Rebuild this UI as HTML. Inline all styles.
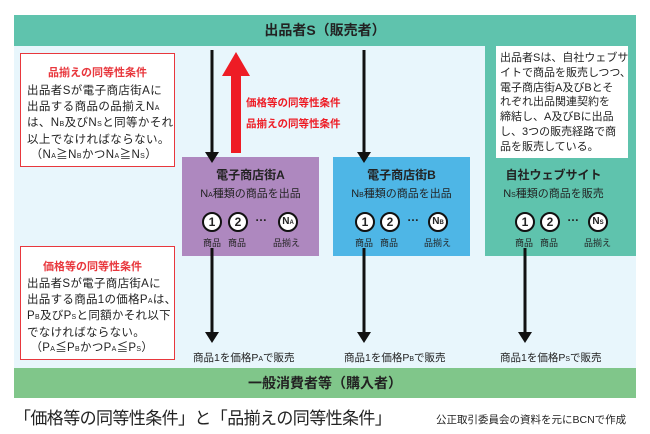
<!DOCTYPE html>
<html><head><meta charset="utf-8"><style>
*{margin:0;padding:0;box-sizing:border-box}
body{width:650px;height:434px;background:#fff;position:relative;overflow:hidden;font-family:"Liberation Sans","Noto Sans CJK JP",sans-serif;color:#222}
.a{position:absolute}
.c{text-align:center}
.circ{position:absolute;width:20px;height:20px;border:2px solid #111;border-radius:50%;background:#fff;font-weight:bold;font-size:12px;text-align:center;line-height:16px}
.sm{position:absolute;font-size:9px;color:#222}
.t{white-space:nowrap}
.s{font-size:7px}
</style></head><body>
<div class="a" style="left:14px;top:46px;width:622px;height:322px;background:#e8f6fc"></div>
<div class="a" style="left:485px;top:46px;width:151px;height:210px;background:#5fc3ad"></div>
<div class="a c" style="left:14px;top:15px;width:622px;height:31px;background:#5fc3ad;font-weight:bold;font-size:14px;line-height:31px">出品者S（販売者）</div>
<div class="a c" style="left:14px;top:368px;width:622px;height:30px;background:#80c68a;font-weight:bold;font-size:14px;line-height:30px">一般消費者等（購入者）</div>

<div class="a" style="left:20px;top:53px;width:155px;height:114px;background:#fff;border:1.5px solid #e8373d"></div>
<div class="a c" style="left:20px;top:64px;width:155px;font-size:11px;color:#e8373d;font-weight:bold">品揃えの同等性条件</div>
<div class="a t" style="left:27px;top:84px;font-size:11.5px;line-height:15.5px;letter-spacing:0.4px">出品者Sが電子商店街Aに<br>出品する商品の品揃えN<span class="s">A</span><br>は、N<span class="s">B</span>及びN<span class="s">S</span>と同等かそれ<br>以上でなければならない。<br>&nbsp;（N<span class="s">A</span>≧N<span class="s">B</span>かつN<span class="s">A</span>≧N<span class="s">S</span>）</div>

<div class="a" style="left:20px;top:246px;width:155px;height:114px;background:#fff;border:1.5px solid #e8373d"></div>
<div class="a c" style="left:20px;top:258px;width:145px;font-size:11px;color:#e8373d;font-weight:bold">価格等の同等性条件</div>
<div class="a t" style="left:27px;top:277px;font-size:11.5px;line-height:15.5px;letter-spacing:0.3px">出品者Sが電子商店街Aに<br>出品する商品1の価格P<span class="s">A</span>は、<br>P<span class="s">B</span>及びP<span class="s">S</span>と同額かそれ以下<br>でなければならない。<br>&nbsp;（P<span class="s">A</span>≦P<span class="s">B</span>かつP<span class="s">A</span>≦P<span class="s">S</span>）</div>

<div class="a" style="left:496px;top:46px;width:132px;height:112px;background:#fff"></div>
<div class="a t" style="left:500px;top:51px;font-size:11px;line-height:14.8px">出品者Sは、自社ウェブサ<br>イトで商品を販売しつつ、<br>電子商店街A及びBとそ<br>れぞれ出品関連契約を<br>締結し、A及びBに出品<br>し、3つの販売経路で商<br>品を販売している。</div>

<div class="a" style="left:182px;top:157px;width:137px;height:99px;background:#ae88bf"></div>
<div class="a" style="left:333px;top:157px;width:137px;height:99px;background:#4eb6e6"></div>

<div class="a c" style="left:182px;top:166px;width:137px;font-weight:bold;font-size:12px">電子商店街A</div>
<div class="a c" style="left:182px;top:185px;width:137px;font-size:11px">N<span class="s">A</span>種類の商品を出品</div>
<div class="a c" style="left:333px;top:166px;width:137px;font-weight:bold;font-size:12px">電子商店街B</div>
<div class="a c" style="left:333px;top:185px;width:137px;font-size:11px">N<span class="s">B</span>種類の商品を出品</div>
<div class="a c" style="left:485px;top:166px;width:137px;font-weight:bold;font-size:12px">自社ウェブサイト</div>
<div class="a c" style="left:485px;top:185px;width:137px;font-size:11px">N<span class="s">S</span>種類の商品を販売</div>

<div class="circ" style="left:202px;top:212px">1</div><div class="circ" style="left:228px;top:212px">2</div><div class="a" style="left:255px;top:210px;font-weight:bold;font-size:12px">…</div><div class="circ" style="left:278px;top:212px;font-size:10px">N<span style="font-size:6px">A</span></div>
<div class="sm" style="left:203px;top:236px">商品</div><div class="sm" style="left:228px;top:236px">商品</div><div class="sm" style="left:273px;top:236px">品揃え</div>

<div class="circ" style="left:355px;top:212px">1</div><div class="circ" style="left:380px;top:212px">2</div><div class="a" style="left:407px;top:210px;font-weight:bold;font-size:12px">…</div><div class="circ" style="left:428px;top:212px;font-size:10px">N<span style="font-size:6px">B</span></div>
<div class="sm" style="left:355px;top:236px">商品</div><div class="sm" style="left:380px;top:236px">商品</div><div class="sm" style="left:424px;top:236px">品揃え</div>

<div class="circ" style="left:515px;top:212px">1</div><div class="circ" style="left:540px;top:212px">2</div><div class="a" style="left:567px;top:210px;font-weight:bold;font-size:12px">…</div><div class="circ" style="left:588px;top:212px;font-size:10px">N<span style="font-size:6px">S</span></div>
<div class="sm" style="left:515px;top:236px">商品</div><div class="sm" style="left:540px;top:236px">商品</div><div class="sm" style="left:584px;top:236px">品揃え</div>

<svg class="a" style="left:0;top:0" width="650" height="434">
<g fill="#111" stroke="#111">
<line x1="212" y1="50" x2="212" y2="152" stroke-width="3"/><polygon points="205,152 219,152 212,163" stroke="none"/>
<line x1="364" y1="50" x2="364" y2="152" stroke-width="3"/><polygon points="357,152 371,152 364,163" stroke="none"/>
<line x1="212" y1="248" x2="212" y2="332" stroke-width="3"/><polygon points="205,332 219,332 212,343" stroke="none"/>
<line x1="364" y1="248" x2="364" y2="332" stroke-width="3"/><polygon points="357,332 371,332 364,343" stroke="none"/>
<line x1="525" y1="248" x2="525" y2="332" stroke-width="3"/><polygon points="518,332 532,332 525,343" stroke="none"/>
</g>
<polygon points="236,52 250,76 241,76 241,153 231,153 231,76 222,76" fill="#ee1c25"/>
</svg>
<div class="a" style="left:246px;top:95px;font-size:10.5px;color:#ee1c25;font-weight:bold">価格等の同等性条件</div>
<div class="a" style="left:246px;top:116px;font-size:10.5px;color:#ee1c25;font-weight:bold">品揃えの同等性条件</div>

<div class="a" style="left:193px;top:350px;font-size:10.5px">商品1を価格P<span class="s">A</span>で販売</div>
<div class="a" style="left:344px;top:350px;font-size:10.5px">商品1を価格P<span class="s">B</span>で販売</div>
<div class="a" style="left:500px;top:350px;font-size:10.5px">商品1を価格P<span class="s">S</span>で販売</div>

<div class="a t" style="left:14px;top:404px;font-size:17px;letter-spacing:-0.6px">「価格等の同等性条件」と「品揃えの同等性条件」</div>
<div class="a" style="left:436px;top:412px;font-size:10.5px">公正取引委員会の資料を元にBCNで作成</div>
</body></html>
